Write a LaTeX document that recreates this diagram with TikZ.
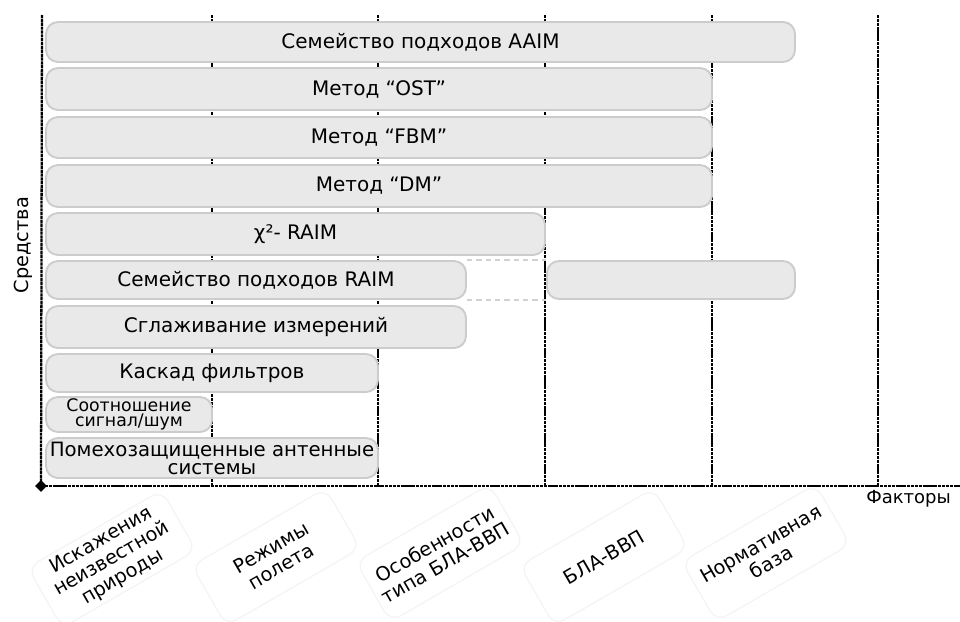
\documentclass[tikz,border=0pt]{standalone}
\usepackage{fontspec}
\setmainfont{DejaVu Sans}
\usetikzlibrary{shapes.geometric}

\begin{document}
\begin{tikzpicture}[x=0.75pt, y=-0.75pt,
    every node/.style={font=\fontsize{15}{16.5}\selectfont},
    barsize/.style 2 args={minimum width=#1*0.75pt, minimum height=#2*0.75pt},
    bar/.style={draw=gray!40, fill=gray!17, line width=1.4pt, rounded corners=9pt, inner sep=0pt, align=center},
    grid/.style={black, line width=1.7pt, dash pattern=on 2.4pt off 0.5pt},
    link/.style={gray!35, line width=1.2pt, dash pattern=on 4pt off 3pt},
    factor/.style={draw=gray!9, line width=1pt, rounded corners=9pt, rotate=30, inner sep=1pt,
        minimum width=116pt, minimum height=52pt, align=center, font=\fontsize{14.5}{16}\selectfont}]
    \useasboundingbox (0,0) rectangle (960,621);

    % grid of factors
    \draw[grid] (212,15) -- (212,486);
    \draw[grid] (378,15) -- (378,486);
    \draw[grid] (545,15) -- (545,486);
    \draw[grid] (712,15) -- (712,486);
    \draw[grid] (878,15) -- (878,486);

    % axes
    \node[diamond, fill=black, inner sep=0pt, minimum size=9pt] (origin) at (41,486) {};
    \coordinate (yend) at (42,15);
    \coordinate (xend) at (960,486);
    \draw[grid] (origin.center) -- (yend);
    \draw[grid] (origin.center) -- (xend);
    \node[anchor=north west, inner sep=0pt, font=\fontsize{13.5}{15}\selectfont] (factors) at (866,490) {Факторы};
    \node[rotate=90, inner sep=0pt, font=\fontsize{14.5}{16}\selectfont] (means) at (23,245) {Средства};

    % means
    \node[bar, barsize={749}{40}] (aaim) at (420.5,42) {Семейство подходов AAIM};
    \node[bar, barsize={666}{42}] (ost) at (379,89) {Метод “OST”};
    \node[bar, barsize={666}{41}] (fbm) at (379,137.5) {Метод “FBM”};
    \node[bar, barsize={666}{42}] (dm) at (379,186) {Метод “DM”};
    \node[bar, barsize={499}{42}] (chi) at (295.5,234) {χ²- RAIM};
    \node[bar, barsize={420}{38}] (raim) at (256,280) {Семейство подходов RAIM};
    \node[bar, barsize={248}{38}] (raimb) at (671,280) {};
    \node[bar, barsize={420}{42}] (smooth) at (256,327) {Сглаживание измерений};
    \node[bar, barsize={332}{38}] (cascade) at (212,373) {Каскад фильтров};
    \node[bar, barsize={166}{35}, font=\fontsize{13}{11.5}\selectfont] (snr) at (129,414.5) {Соотношение\\сигнал/шум};
    \node[bar, barsize={332}{40}, font=\fontsize{14.8}{13.5}\selectfont] (antenna) at (212,458) {Помехозащищенные антенные\\системы};
    \draw[link] (raim.north east) -- (raimb.north west);
    \draw[link] (raim.south east) -- (raimb.south west);

    % factors
    \node[factor] (unknown) at (112,559) {Искажения\\неизвестной\\природы};
    \node[factor] (modes) at (276,557) {Режимы\\полета};
    \node[factor] (type) at (440,553) {Особенности\\типа БЛА-ВВП};
    \node[factor] (uav) at (604,557) {БЛА-ВВП};
    \node[factor] (norms) at (766,553) {Нормативная\\база};
\end{tikzpicture}
\end{document}
